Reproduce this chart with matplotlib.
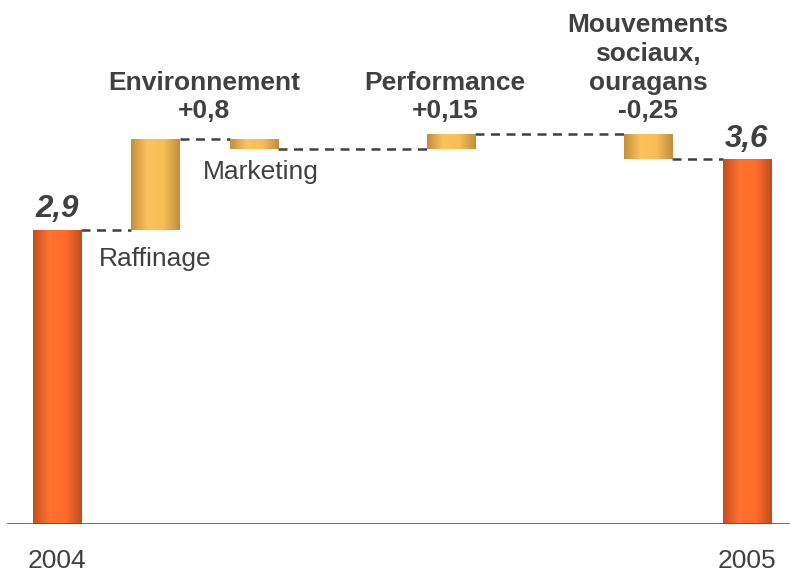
import matplotlib.pyplot as plt
import numpy as np
from matplotlib.colors import LinearSegmentedColormap

plt.rcParams['font.family'] = ['Liberation Sans', 'DejaVu Sans']

# --- data ---
start_label, end_label = '2004', '2005'
start_value = 2.9
end_value = 3.6
step_names = ['Raffinage', 'Marketing', 'Performance', 'Mouvements sociaux, ouragans']
step_deltas = [0.9, -0.1, 0.15, -0.25]
group_titles = ['Environnement\n+0,8', 'Performance\n+0,15', 'Mouvements\nsociaux,\nouragans\n-0,25']

# slot of each bar along the x axis (gaps at 3 and 5)
slots = [0, 1, 2, 4, 6, 7]
bar_w = 0.49
dark = '#404040'

orange = LinearSegmentedColormap.from_list('o', ['#c24e1f', '#ff7230', '#ff6c2b', '#c04d1e'])
gold = LinearSegmentedColormap.from_list('g', ['#c28f3e', '#fdc25c', '#f9bd57', '#c08e3d'])

fig = plt.figure(figsize=(7.9, 5.72), dpi=100)
ax = fig.add_axes([7 / 790, 48 / 572, 783 / 790, 5 * 101.4 / 572])
ax.set_xlim(-0.508, 7.44)
ax.set_ylim(0, 5)
ax.axis('off')

# bottoms / heights of waterfall bars
bottoms = [0]
heights = [start_value]
level = start_value
for d in step_deltas:
    bottoms.append(min(level, level + d))
    heights.append(abs(d))
    level += d
bottoms.append(0)
heights.append(end_value)

bars = ax.bar(slots, heights, bottom=bottoms, width=bar_w, facecolor='none', edgecolor='none')
grad = np.linspace(0, 1, 256).reshape(1, -1)
for i, patch in enumerate(bars.patches):
    cmap = orange if i in (0, len(slots) - 1) else gold
    x0, y0 = patch.get_x(), patch.get_y()
    im = ax.imshow(grad, cmap=cmap, aspect='auto', extent=[x0, x0 + bar_w, y0, y0 + patch.get_height()],
                   zorder=2, interpolation='bicubic')
    im.set_clip_path(patch)

# dashed connectors
levels = [start_value]
for d in step_deltas:
    levels.append(levels[-1] + d)
for i in range(len(slots) - 1):
    ax.plot([slots[i] + bar_w / 2, slots[i + 1] - bar_w / 2], [levels[i], levels[i]],
            color=dark, lw=1.8, dashes=(3.6, 2.6), zorder=1)

# baseline
ax.axhline(0, color='#555555', lw=1.2, zorder=3)

# value labels on totals
ax.text(slots[0], start_value + 0.13, '2,9', ha='center', va='baseline', fontsize=22.5,
        fontweight='bold', fontstyle='italic', color=dark)
ax.text(slots[-1], end_value + 0.12, '3,6', ha='center', va='baseline', fontsize=22.5,
        fontweight='bold', fontstyle='italic', color=dark)

# step labels
ax.text(slots[1], 2.61, step_names[0], ha='center', va='center', fontsize=19, color=dark)
ax.text(slots[2] + 0.07, 3.47, step_names[1], ha='center', va='center', fontsize=19, color=dark)

# group titles
for x, title in zip([1.49, 3.94, 6.0], group_titles):
    ax.text(x, 4.0, title, ha='center', va='baseline', fontsize=19, fontweight='bold',
            color=dark, linespacing=1.25)

# year labels
ax.text(slots[0], -0.43, start_label, ha='center', va='baseline', fontsize=19, color=dark)
ax.text(slots[-1], -0.43, end_label, ha='center', va='baseline', fontsize=19, color=dark)

fig.savefig('out.png', dpi=100)
